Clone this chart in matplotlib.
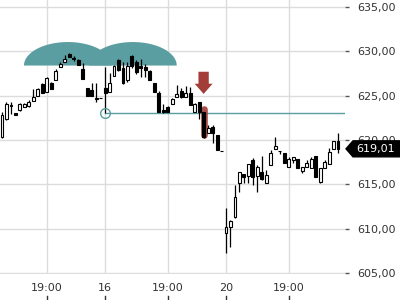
"""Candlestick chart with annotations, saved as out.png."""

import matplotlib

matplotlib.use("Agg")
import matplotlib.pyplot as plt
from matplotlib.patches import FancyArrow, Polygon
from matplotlib.ticker import FuncFormatter
from matplotlib.transforms import blended_transform_factory
import numpy as np

# --- data -----------------------------------------------------------------
opens = [
    620.34, 622.37, 623.84, 623.05, 623.39, 623.73, 623.84, 624.40, 624.97, 626.32,
    625.42, 626.43, 626.77, 628.24, 628.80, 629.70, 629.30, 629.02, 628.01, 625.87,
    625.64, 624.63, 624.75, 625.87, 625.42, 627.22, 629.02, 628.12, 626.77, 629.48,
    628.80, 628.35, 628.24, 627.78, 626.43, 625.30, 623.39, 623.73, 624.06, 624.85,
    625.53, 624.85, 625.30, 623.16, 624.29, 623.16, 620.79, 621.47, 620.57, 618.80,
    609.52, 610.20, 611.32, 615.16, 616.17, 615.95, 617.75, 615.95, 616.40, 615.16,
    617.19, 618.99, 618.80, 618.54, 616.96, 617.75, 617.86, 616.51, 616.96, 616.85,
    618.20, 615.27, 616.85, 617.30, 618.99, 619.89,
]
highs = [
    623.16, 624.29, 624.29, 623.05, 624.18, 624.18, 624.52, 625.76, 625.87, 626.43,
    627.11, 626.54, 628.01, 628.80, 629.59, 629.81, 629.48, 629.14, 628.69, 625.87,
    626.43, 626.43, 624.76, 628.24, 627.56, 628.46, 629.14, 628.80, 628.80, 629.59,
    629.02, 629.14, 628.57, 627.90, 626.43, 625.53, 624.06, 623.84, 624.74, 626.21,
    625.87, 626.09, 625.98, 624.18, 624.29, 623.16, 621.70, 621.70, 620.57, 618.80,
    612.34, 610.99, 614.93, 616.40, 616.17, 617.30, 617.98, 617.19, 618.20, 616.62,
    618.88, 620.34, 618.80, 618.54, 618.09, 618.09, 617.86, 616.96, 617.75, 618.09,
    618.20, 616.85, 617.75, 619.10, 619.89, 620.79,
]
lows = [
    620.20, 622.30, 622.94, 622.82, 623.28, 623.73, 623.73, 624.40, 624.97, 625.30,
    625.42, 625.76, 626.77, 628.24, 628.80, 629.36, 628.91, 628.46, 626.88, 624.97,
    624.97, 624.29, 624.72, 623.05, 625.42, 627.22, 627.78, 626.32, 626.54, 628.12,
    627.45, 627.11, 627.11, 626.77, 625.42, 623.16, 623.05, 623.16, 624.06, 624.85,
    624.74, 624.85, 623.95, 623.16, 622.37, 620.23, 620.79, 619.67, 618.88, 618.75,
    607.27, 607.94, 611.21, 614.14, 615.16, 615.16, 614.93, 614.14, 615.50, 615.16,
    617.19, 618.99, 618.43, 617.41, 616.96, 617.41, 616.85, 616.28, 616.96, 616.85,
    615.83, 615.16, 616.85, 617.30, 618.99, 618.54,
]
closes = [
    622.82, 624.06, 623.95, 622.82, 624.06, 624.06, 624.29, 624.85, 625.76, 625.30,
    627.00, 625.76, 627.78, 628.57, 629.14, 629.36, 629.10, 628.46, 626.88, 624.97,
    624.97, 624.75, 624.72, 625.30, 626.43, 628.35, 627.90, 626.43, 628.35, 628.35,
    627.67, 628.12, 627.90, 626.77, 625.42, 623.16, 623.16, 623.16, 624.63, 625.19,
    624.85, 625.30, 623.95, 624.06, 623.16, 620.34, 621.36, 620.79, 618.88, 618.75,
    610.20, 610.87, 613.58, 616.40, 615.83, 617.30, 615.83, 616.96, 615.61, 616.06,
    618.54, 619.33, 618.76, 617.41, 617.86, 618.09, 616.85, 616.96, 617.41, 617.86,
    615.83, 616.85, 617.53, 618.65, 619.89, 619.01,
]
price_ticks = [605, 610, 615, 620, 625, 630, 635]
time_tick_candles = [10, 23, 37, 50, 64]
time_tick_labels = ["19:00", "16", "19:00", "20", "19:00"]
support_candle = 23
support_price = 623.05
signal_candle = 45
last_price = closes[-1]

# --- style ----------------------------------------------------------------
TEAL = "#5b9ea1"
RED = "#a33d37"
GRID = "#dcdcdc"
TEXT = "#333333"

fig = plt.figure(figsize=(4, 3), dpi=100)
ax = fig.add_axes([0, 0.0853, 0.8625, 0.9147])

idx = np.arange(len(opens))
o = np.array(opens)
c = np.array(closes)

ax.set_xlim(-0.45, 76.56)
ax.set_ylim(604.85, 635.79)
for s in ax.spines.values():
    s.set_visible(False)

# grid + axes
ax.set_yticks(price_ticks)
ax.yaxis.tick_right()
ax.yaxis.set_major_formatter(FuncFormatter(lambda v, _: f"{v:.2f}".replace(".", ",")))
ax.tick_params(axis="y", length=3, width=1, color="#555555", pad=6,
               labelsize=8, labelcolor=TEXT)
ax.set_xticks(time_tick_candles, time_tick_labels)
ax.tick_params(axis="x", length=0, pad=6, labelsize=8, labelcolor=TEXT)
ax.grid(True, color=GRID, linewidth=1, zorder=0)
ax.set_axisbelow(True)

# small tick marks at the very bottom of the figure
trans_bottom = blended_transform_factory(ax.transData, fig.transFigure)
for t in time_tick_candles:
    ax.plot([t, t], [0.0, 0.013], color="#333333", lw=1,
            transform=trans_bottom, clip_on=False)

# teal domes
t = np.linspace(0, np.pi, 100)
for centre in (14.7, 29.2):
    ax.fill(centre + 9.8 * np.cos(t), 628.4 + 2.65 * np.sin(t),
            color=TEAL, lw=0, zorder=1)

# support line and circle
ax.plot([support_candle, 80], [support_price, support_price],
        color=TEAL, lw=1, zorder=1)
ax.plot(support_candle, support_price, "o", ms=7, mfc="none",
        mec=TEAL, mew=1, zorder=4)

# red highlight behind the signal candle
ax.plot([signal_candle, signal_candle], [620.6, 623.5], color=RED, alpha=0.9,
        lw=4.8, solid_capstyle="round", zorder=1.5)

# red arrow
ax.add_patch(FancyArrow(signal_candle, 627.7, 0, -2.5, width=2.3,
                        head_width=4.0, head_length=1.15,
                        length_includes_head=True, color=RED, lw=0, zorder=3))

# candles
ax.vlines(idx, lows, highs, color="black", lw=0.9, zorder=2)
fills = np.where(c >= o, "white", "black")
ax.bar(idx, np.abs(c - o), bottom=np.minimum(o, c), width=0.65,
       color=fills, edgecolor="black", linewidth=0.8, zorder=2.5)

# last price tag
y_tag = ax.transData.transform((0, last_price))[1] / fig.bbox.height
h = 8 / 300
tag = Polygon([(346 / 400, y_tag), (353 / 400, y_tag + h), (1.0, y_tag + h),
               (1.0, y_tag - h), (353 / 400, y_tag - h)],
              closed=True, transform=fig.transFigure, color="black", zorder=5)
fig.add_artist(tag)
fig.text(356 / 400, y_tag, f"{last_price:.2f}".replace(".", ","),
         color="white", fontsize=8, va="center", ha="left", zorder=6)

fig.savefig("out.png", dpi=100)
